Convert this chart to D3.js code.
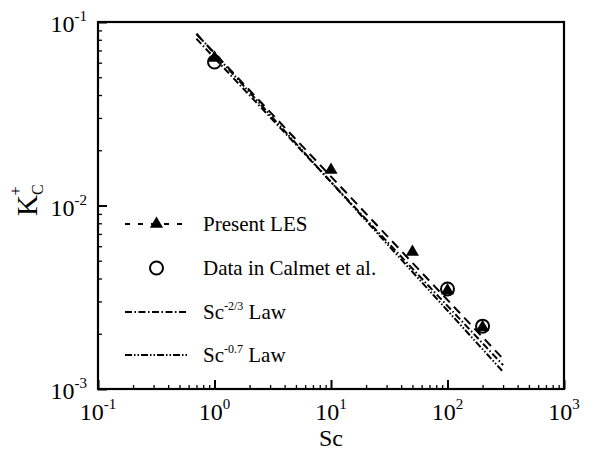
<!DOCTYPE html>
<html><head><meta charset="utf-8">
<script src="https://cdn.jsdelivr.net/npm/d3@7"></script>
<style>
body{margin:0;background:#fff}
svg{display:block}
text{font-family:"Liberation Serif","Times New Roman",serif;fill:#000}
</style>
</head><body>
<svg id="chart" width="595" height="454"></svg>
<script>
// Mass-transfer coefficient K_C^+ against Schmidt number
const scLES = [1, 10, 50, 100, 200];
const kLES = [0.0637, 0.0156, 0.00558, 0.00344, 0.00217];
const scCalmet = [1, 100, 200];
const kCalmet = [0.0605, 0.00351, 0.00220];
// straight lines in log-log space, given by their end points
const lineSc = [0.7, 300];
const kFitLES = [0.086, 0.00146];
const kLaw23 = [0.081, 0.00135];
const kLaw07 = [0.0863, 0.00124];
const xTickExp = [-1, 0, 1, 2, 3];
const yTickExp = [-1, -2, -3];

const svg = d3.select("#chart");
const L = 98, R = 564, T = 22, B = 389;
const x = d3.scaleLog().domain([0.1, 1000]).range([L, R]);
const y = d3.scaleLog().domain([0.001, 0.1]).range([B, T]);

// minor / major ticks, pointing into the plot
const isMajor = (v, exps) => exps.some(e => Math.abs(Math.log10(v) - e) < 1e-9);
const xMinor = x.ticks().filter(v => !isMajor(v, xTickExp));
const yMinor = y.ticks().filter(v => !isMajor(v, yTickExp));
function styleAxis(g){ g.select(".domain").remove(); g.selectAll("line").attr("stroke","#000").attr("stroke-width",1.3); g.selectAll("text").remove(); }
svg.append("g").attr("transform",`translate(0,${B})`)
  .call(d3.axisBottom(x).tickValues(xMinor).tickSize(-4)).call(styleAxis);
svg.append("g").attr("transform",`translate(0,${B})`)
  .call(d3.axisBottom(x).tickValues(xTickExp.map(e => Math.pow(10,e))).tickSize(-9)).call(styleAxis)
  .selectAll("line").attr("stroke-width",2);
svg.append("g").attr("transform",`translate(${L},0)`)
  .call(d3.axisLeft(y).tickValues(yMinor).tickSize(-4)).call(styleAxis);
svg.append("g").attr("transform",`translate(${L},0)`)
  .call(d3.axisLeft(y).tickValues(yTickExp.map(e => Math.pow(10,e))).tickSize(-9)).call(styleAxis)
  .selectAll("line").attr("stroke-width",2);

// frame
svg.append("rect").attr("x",L).attr("y",T).attr("width",R-L).attr("height",B-T)
  .attr("fill","none").attr("stroke","#000").attr("stroke-width",2.2);

// tick labels with superscript exponents
xTickExp.forEach(e => {
  const t = svg.append("text").attr("x", x(Math.pow(10,e))).attr("y", B+31)
    .attr("text-anchor","middle").attr("font-size",24);
  t.append("tspan").text("10");
  t.append("tspan").attr("font-size",15).attr("dy",-11).text(e);
});
yTickExp.forEach(e => {
  const t = svg.append("text").attr("x", 87).attr("y", y(Math.pow(10,e))+10)
    .attr("text-anchor","end").attr("font-size",24);
  t.append("tspan").text("10");
  t.append("tspan").attr("font-size",15).attr("dy",-11).text(e);
});

// axis titles
svg.append("text").attr("x", x(10)).attr("y", 446).attr("text-anchor","middle")
  .attr("font-size",24).text("Sc");
const yl = svg.append("text").attr("transform","translate(37,216) rotate(-90)")
  .attr("font-size",29);
yl.append("tspan").text("K");
yl.append("tspan").attr("font-size",16).attr("dy",6).text("C");
yl.append("tspan").attr("font-size",16).attr("dx",-11).attr("dy",-22).text("+");

// lines
const line = d3.line().x(d => x(d[0])).y(d => y(d[1]));
const dashFit = "9,6", dashDot = "7,2.5,1.5,2.5", dashDotDot = "7,2,1.5,2,1.5,2";
const lines = [
  {k: kFitLES, dash: dashFit},
  {k: kLaw23, dash: dashDot},
  {k: kLaw07, dash: dashDotDot}
];
lines.forEach(s => {
  svg.append("path").datum(lineSc.map((v,i) => [v, s.k[i]]))
    .attr("d", line).attr("fill","none").attr("stroke","#000")
    .attr("stroke-width",2).attr("stroke-dasharray", s.dash);
});

// markers
const tri = d3.symbol().type(d3.symbolTriangle).size(75);
svg.append("g").selectAll("path").data(scLES.map((v,i) => [v, kLES[i]])).join("path")
  .attr("d", tri).attr("transform", d => `translate(${x(d[0])},${y(d[1])})`)
  .attr("fill","#000");
svg.append("g").selectAll("circle").data(scCalmet.map((v,i) => [v, kCalmet[i]])).join("circle")
  .attr("cx", d => x(d[0])).attr("cy", d => y(d[1])).attr("r",6.5)
  .attr("fill","none").attr("stroke","#000").attr("stroke-width",2);

// legend
const lgX0 = 125, lgX1 = 188, lgTx = 203;
const rows = [224, 268, 312, 355];
function legendText(yy, parts){
  const t = svg.append("text").attr("x", lgTx).attr("y", yy+7).attr("font-size",21);
  parts.forEach(p => {
    const s = t.append("tspan").text(p.t);
    if (p.sup) s.attr("font-size",12).attr("dy",-9);
    if (p.back) s.attr("dy",9);
  });
}
svg.append("path").attr("d", `M${lgX0},${rows[0]}H${lgX1}`).attr("stroke","#000")
  .attr("stroke-width",2).attr("stroke-dasharray","5,8");
svg.append("path").attr("d", tri).attr("transform",`translate(${(lgX0+lgX1)/2},${rows[0]})`).attr("fill","#000");
legendText(rows[0], [{t:"Present LES"}]);
svg.append("circle").attr("cx",(lgX0+lgX1)/2).attr("cy",rows[1]).attr("r",6.5)
  .attr("fill","none").attr("stroke","#000").attr("stroke-width",2);
legendText(rows[1], [{t:"Data in Calmet et al."}]);
svg.append("path").attr("d", `M${lgX0},${rows[2]}H${lgX1}`).attr("stroke","#000")
  .attr("stroke-width",2).attr("stroke-dasharray",dashDot);
legendText(rows[2], [{t:"Sc"},{t:"-2/3",sup:true},{t:" Law",back:true}]);
svg.append("path").attr("d", `M${lgX0},${rows[3]}H${lgX1}`).attr("stroke","#000")
  .attr("stroke-width",2).attr("stroke-dasharray",dashDotDot);
legendText(rows[3], [{t:"Sc"},{t:"-0.7",sup:true},{t:" Law",back:true}]);
</script>
</body></html>
